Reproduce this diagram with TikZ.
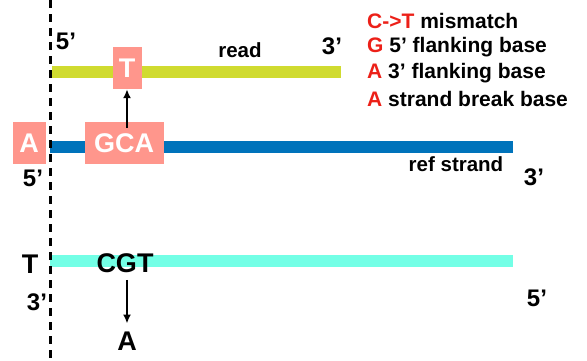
\documentclass[tikz,border=0pt]{standalone}
\usepackage{fontspec}
\setmainfont{Liberation Sans}
\usetikzlibrary{arrows.meta}
\definecolor{readcol}{RGB}{208,219,48}
\definecolor{refcol}{RGB}{0,115,187}
\definecolor{compcol}{RGB}{115,255,230}
\definecolor{boxcol}{RGB}{255,150,140}
\definecolor{legred}{RGB}{236,32,24}
\begin{document}
\begin{tikzpicture}[x=1pt,y=-1pt,>={Latex[length=9pt,width=8pt]},
    strand/.style={line width=12pt},
    base node/.style={font=\fontsize{27}{27}\selectfont\bfseries,inner sep=0pt},
    hit node/.style={base node,fill=boxcol,text=white,minimum height=42pt,inner xsep=7pt},
    end node/.style={font=\fontsize{24}{24}\selectfont\bfseries,inner sep=0pt},
    tag node/.style={font=\fontsize{20.5}{20.5}\selectfont\bfseries,inner sep=0pt},
    key node/.style={font=\fontsize{21}{21}\selectfont\bfseries,inner sep=0pt,anchor=west}]
  \useasboundingbox (0,0) rectangle (587,360);

  % strands
  \coordinate (readL) at (52,72);
  \coordinate (readR) at (341,72);
  \coordinate (refL) at (50,147);
  \coordinate (refR) at (513,147);
  \coordinate (compL) at (50,261);
  \coordinate (compR) at (513,261);
  \draw[strand,readcol] (readL) -- (readR);
  \draw[strand,refcol] (refL) -- (refR);
  \draw[strand,compcol] (compL) -- (compR);

  % strand break
  \coordinate (cutT) at (50,0);
  \coordinate (cutB) at (50,360);
  \draw[line width=3pt,dash pattern=on 8pt off 6pt] (cutT) -- (cutB);

  % bases
  \node[hit node,minimum width=29pt,inner xsep=0pt] (t) at (127,68) {T};
  \node[hit node,minimum width=79pt] (gca) at (124,143) {GCA};
  \node[hit node,minimum width=33pt,inner xsep=0pt] (a) at (29,143) {A};
  \node[base node] (cgt) at (125,263) {CGT};
  \node[base node] (lowa) at (127,341) {A};
  \node[base node] (lowt) at (30,264) {T};

  \path[->,line width=2pt]
    ([yshift=-6pt]gca.north -| t) edge (t)
    ([yshift=-7pt]cgt.south -| lowa) edge ([yshift=8pt]lowa.north)
  ;

  % ends and labels
  \node[end node] (r5) at (66,41) {5’};
  \node[end node] (r3) at (332,46) {3’};
  \node[end node] (f5) at (33,178) {5’};
  \node[end node] (f3) at (534,177) {3’};
  \node[end node] (c3) at (37,302) {3’};
  \node[end node] (c5) at (537,298) {5’};
  \node[tag node] (readlbl) at (240,50) {read};
  \node[tag node] (reflbl) at (456,164) {ref strand};

  % key
  \node[key node] (k1) at (367,21) {\textcolor{legred}{C->T} mismatch};
  \node[key node] (k2) at (367,47) {\textcolor{legred}{G} 5’ flanking base};
  \node[key node] (k3) at (367,73) {\textcolor{legred}{A} 3’ flanking base};
  \node[key node] (k4) at (367,99) {\textcolor{legred}{A} strand break base};
\end{tikzpicture}
\end{document}
